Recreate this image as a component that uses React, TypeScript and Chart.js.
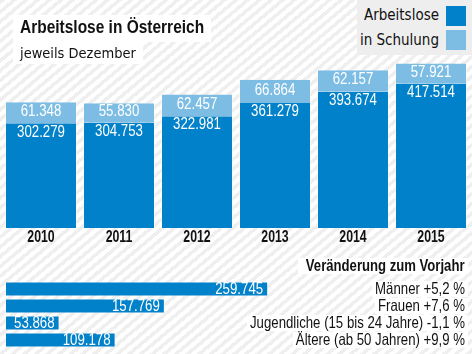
import React, { useEffect, useRef } from 'react';
import { Chart, registerables } from 'chart.js';

Chart.register(...registerables);

const years = ['2010', '2011', '2012', '2013', '2014', '2015'];
const arbeitslose = [302279, 304753, 322981, 361279, 393674, 417514];
const schulung = [61348, 55830, 62457, 66864, 62157, 57921];

const groups = ['Männer +5,2 %', 'Frauen +7,6 %', 'Jugendliche (15 bis 24 Jahre) -1,1 %', 'Ältere (ab 50 Jahren) +9,9 %'];
const groupValues = [259745, 157769, 53868, 109178];

const DARK = '#0081c9';
const LIGHT = '#7dbde4';
const EDGE = 'rgba(255,255,255,0.35)';
const SANS = "'Liberation Sans', Arial, sans-serif";
const COND = "'DejaVu Sans Condensed', 'Liberation Sans', sans-serif";

function fmt(v: number): string {
  return String(v).replace(/\B(?=(\d{3})+(?!\d))/g, '.');
}

function narrow(ctx: CanvasRenderingContext2D, text: string, x: number, y: number, align: CanvasTextAlign, sx: number) {
  ctx.save();
  ctx.translate(x, y);
  ctx.scale(sx, 1);
  ctx.textAlign = align;
  ctx.fillText(text, 0, 0);
  ctx.restore();
}

const stackLabels = {
  id: 'stackLabels',
  afterDatasetsDraw(chart: any) {
    const ctx = chart.ctx;
    ctx.save();
    ctx.textBaseline = 'middle';
    ctx.fillStyle = '#ffffff';
    ctx.font = `17px ${SANS}`;
    const m0 = chart.getDatasetMeta(0);
    const m1 = chart.getDatasetMeta(1);
    m1.data.forEach((bar: any, i: number) => {
      const { x, y, base } = bar.getProps(['x', 'y', 'base'], true);
      narrow(ctx, fmt(schulung[i]), x, (y + base) / 2 - 1.5, 'center', 0.78);
    });
    m0.data.forEach((bar: any, i: number) => {
      const { x, y } = bar.getProps(['x', 'y'], true);
      narrow(ctx, fmt(arbeitslose[i]), x, y + 8.5, 'center', 0.78);
    });
    ctx.fillStyle = '#111111';
    ctx.font = `bold 16px ${SANS}`;
    const xs = chart.scales.x;
    years.forEach((yr, i) => {
      narrow(ctx, yr, xs.getPixelForValue(i), chart.chartArea.bottom + 10, 'center', 0.77);
    });
    ctx.restore();
  },
};

const hLabels = {
  id: 'hLabels',
  afterDatasetsDraw(chart: any) {
    const ctx = chart.ctx;
    const area = chart.chartArea;
    ctx.save();
    ctx.textBaseline = 'middle';
    const meta = chart.getDatasetMeta(0);
    meta.data.forEach((bar: any, i: number) => {
      const { x, y } = bar.getProps(['x', 'y'], true);
      ctx.font = `17px ${SANS}`;
      ctx.fillStyle = '#ffffff';
      narrow(ctx, fmt(groupValues[i]), x - 5, y + 0.5, 'right', 0.78);
      const label = groups[i];
      ctx.font = `16.5px ${SANS}`;
      const w = ctx.measureText(label).width * 0.8;
      const ry = chart.scales.y.getPixelForValue(i);
      ctx.fillStyle = '#ffffff';
      ctx.fillRect(area.right - w - 3, ry - 8, w + 6, 16);
      ctx.fillStyle = '#111111';
      narrow(ctx, label, area.right, ry + 0.5, 'right', 0.8);
    });
    ctx.restore();
  },
};

function Txt(props: {
  left?: number;
  right?: number;
  cy: number;
  size: number;
  family: string;
  weight?: string;
  sx?: number;
  children: React.ReactNode;
}) {
  const style: React.CSSProperties = {
    position: 'absolute',
    top: props.cy - 10,
    height: 20,
    lineHeight: '20px',
    fontSize: props.size,
    fontFamily: props.family,
    fontWeight: (props.weight || 'normal') as any,
    color: '#111',
    whiteSpace: 'nowrap',
  };
  if (props.left !== undefined) style.left = props.left;
  if (props.right !== undefined) style.right = props.right;
  if (props.sx) {
    style.transform = `scaleX(${props.sx})`;
    style.transformOrigin = props.right !== undefined ? 'right center' : 'left center';
  }
  return <div style={style}>{props.children}</div>;
}

export default function App() {
  const c1 = useRef<HTMLCanvasElement>(null);
  const c2 = useRef<HTMLCanvasElement>(null);

  useEffect(() => {
    const barStyle = {
      borderColor: EDGE,
      borderWidth: { left: 1, right: 1, top: 0, bottom: 0 },
      borderSkipped: false,
      barPercentage: 0.923,
      categoryPercentage: 1,
    };
    const ch1 = new Chart(c1.current as HTMLCanvasElement, {
      type: 'bar',
      data: {
        labels: years,
        datasets: [
          { label: 'Arbeitslose', data: arbeitslose, backgroundColor: DARK, ...barStyle } as any,
          { label: 'in Schulung', data: schulung, backgroundColor: LIGHT, ...barStyle } as any,
        ],
      },
      options: {
        responsive: false,
        maintainAspectRatio: false,
        animation: false,
        layout: { padding: { left: 2, right: 2, top: 3, bottom: 22 } },
        plugins: { legend: { display: false }, tooltip: { enabled: false } },
        scales: {
          x: { stacked: true, display: false },
          y: { stacked: true, display: false, min: 0, max: 650000 },
        },
      },
      plugins: [stackLabels],
    });

    const ch2 = new Chart(c2.current as HTMLCanvasElement, {
      type: 'bar',
      data: {
        labels: groups,
        datasets: [
          {
            data: groupValues,
            backgroundColor: DARK,
            borderColor: EDGE,
            borderWidth: 1,
            borderSkipped: false,
            barPercentage: 0.88,
            categoryPercentage: 1,
          },
        ],
      },
      options: {
        indexAxis: 'y',
        responsive: false,
        maintainAspectRatio: false,
        animation: false,
        layout: { padding: { left: 5, right: 7, top: 10.5, bottom: 5.5 } },
        plugins: { legend: { display: false }, tooltip: { enabled: false } },
        scales: {
          x: { display: false, min: 0, max: 454000 },
          y: { display: false },
        },
      },
      plugins: [hLabels],
    });

    return () => {
      ch1.destroy();
      ch2.destroy();
    };
  }, []);

  return (
    <div
      style={{
        position: 'fixed',
        left: 0,
        top: 0,
        width: 472,
        height: 354,
        overflow: 'hidden',
        background: 'repeating-linear-gradient(140deg, #efefef 0px, #efefef 3.5px, #ffffff 3.5px, #ffffff 7.5px)',
      }}
    >
      <canvas ref={c1} width={472} height={250} style={{ position: 'absolute', left: 0, top: 0, width: 472, height: 250 }} />
      <canvas ref={c2} width={472} height={84} style={{ position: 'absolute', left: 0, top: 270, width: 472, height: 84 }} />

      <div style={{ position: 'absolute', left: 13, top: 15, width: 198, height: 27, background: '#fff' }} />
      <div style={{ position: 'absolute', left: 13, top: 42, width: 130, height: 22, background: '#fff' }} />
      <Txt left={20} cy={27} size={18} family={SANS} weight="bold" sx={0.86}>Arbeitslose in Österreich</Txt>
      <Txt left={20} cy={52.5} size={14.5} family={COND}>jeweils Dezember</Txt>

      <div style={{ position: 'absolute', left: 357, top: 0, width: 115, height: 55, background: '#eeeeee' }} />
      <Txt right={33} cy={15} size={15} family={COND}>Arbeitslose</Txt>
      <Txt right={33} cy={39.5} size={15} family={COND}>in Schulung</Txt>
      <div style={{ position: 'absolute', left: 446, top: 6, width: 20, height: 20, background: DARK }} />
      <div style={{ position: 'absolute', left: 446, top: 30, width: 20, height: 20, background: LIGHT }} />

      <div style={{ position: 'absolute', left: 298, top: 258, width: 170, height: 16, background: '#fff' }} />
      <Txt right={7} cy={266} size={16} family={SANS} weight="bold" sx={0.82}>Veränderung zum Vorjahr</Txt>
    </div>
  );
}
